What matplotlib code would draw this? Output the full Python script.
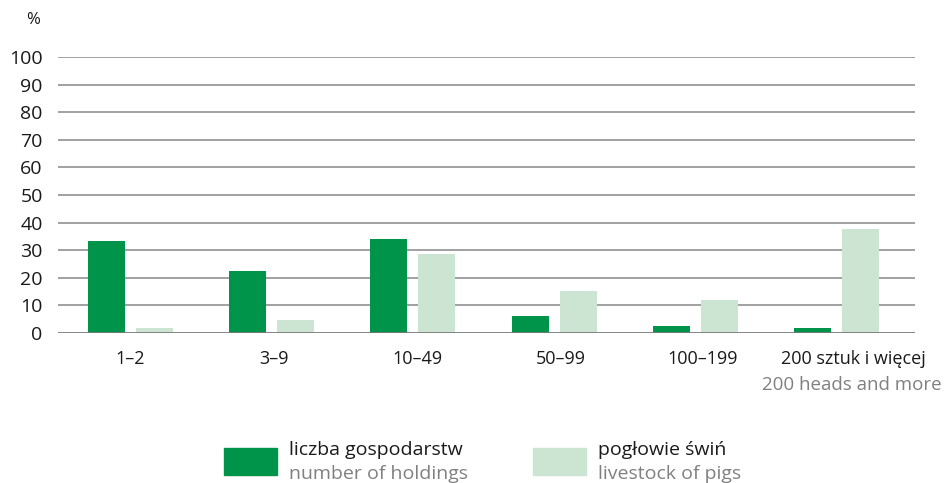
import matplotlib.pyplot as plt
import numpy as np
from matplotlib.patches import Rectangle

plt.rcParams['font.family'] = ['Open Sans', 'DejaVu Sans']

# data (%)
categories = ['1–2', '3–9', '10–49', '50–99', '100–199', '200 sztuk i więcej']
sub_label = '200 heads and more'
holdings = [33.5, 22.3, 34.2, 6.0, 2.4, 1.8]
pigs = [1.9, 4.8, 28.8, 15.2, 12.0, 37.8]
yticks = [0, 10, 20, 30, 40, 50, 60, 70, 80, 90, 100]

dark = '#00944a'
light = '#cce5d2'
grid_c = '#9a9a9a'

fig = plt.figure(figsize=(9.46, 4.83), dpi=100)
ax = fig.add_axes([58 / 946, 150 / 483, 857 / 946, 276 / 483])

x = np.arange(len(categories))
w = 0.262
ax.bar(x - 0.17, holdings, width=w, color=dark, zorder=3)
ax.bar(x + 0.17, pigs, width=w, color=light, zorder=3)

ax.set_xlim(-0.513, 5.556)
ax.set_ylim(0, 100)
for v in yticks[1:]:
    ax.axhline(v, color=grid_c, lw=1.3, zorder=1)
ax.axhline(0, color='#7a7a7a', lw=2, zorder=4)

for s in ax.spines.values():
    s.set_visible(False)
ax.set_yticks(yticks)
ax.set_yticklabels([str(v) for v in yticks], fontsize=14, color='#1a1a1a')
ax.tick_params(axis='y', length=0, pad=11)
# labels sit a little right of the group centres in the original
label_shift = [0.0, 0.02, 0.03, 0.045, 0.05, 0.12]
ax.set_xticks(x + np.array(label_shift))
ax.set_xticklabels(categories, fontsize=13, color='#1a1a1a')
ax.tick_params(axis='x', length=0, pad=12)

ax.text(5.11, -18.8, sub_label, transform=ax.transData, ha='center', va='center',
        fontsize=13.5, color='#808080', clip_on=False)
fig.text(33 / 946, 1 - 20 / 483, '%', fontsize=12, color='#1a1a1a',
         ha='center', va='center')

# legend
fig.patches.append(Rectangle((224 / 946, 1 - 475 / 483), 53 / 946, 27 / 483,
                             transform=fig.transFigure, color=dark))
fig.patches.append(Rectangle((533 / 946, 1 - 475 / 483), 53 / 946, 27 / 483,
                             transform=fig.transFigure, color=light))
fig.text(289 / 946, 1 - 450 / 483, 'liczba gospodarstw', fontsize=14,
         color='#1a1a1a', va='center')
fig.text(289 / 946, 1 - 474 / 483, 'number of holdings', fontsize=14,
         color='#808080', va='center')
fig.text(598 / 946, 1 - 450 / 483, 'pogłowie świń', fontsize=14,
         color='#1a1a1a', va='center')
fig.text(598 / 946, 1 - 474 / 483, 'livestock of pigs', fontsize=14,
         color='#808080', va='center')

fig.savefig('out.png', dpi=100)
